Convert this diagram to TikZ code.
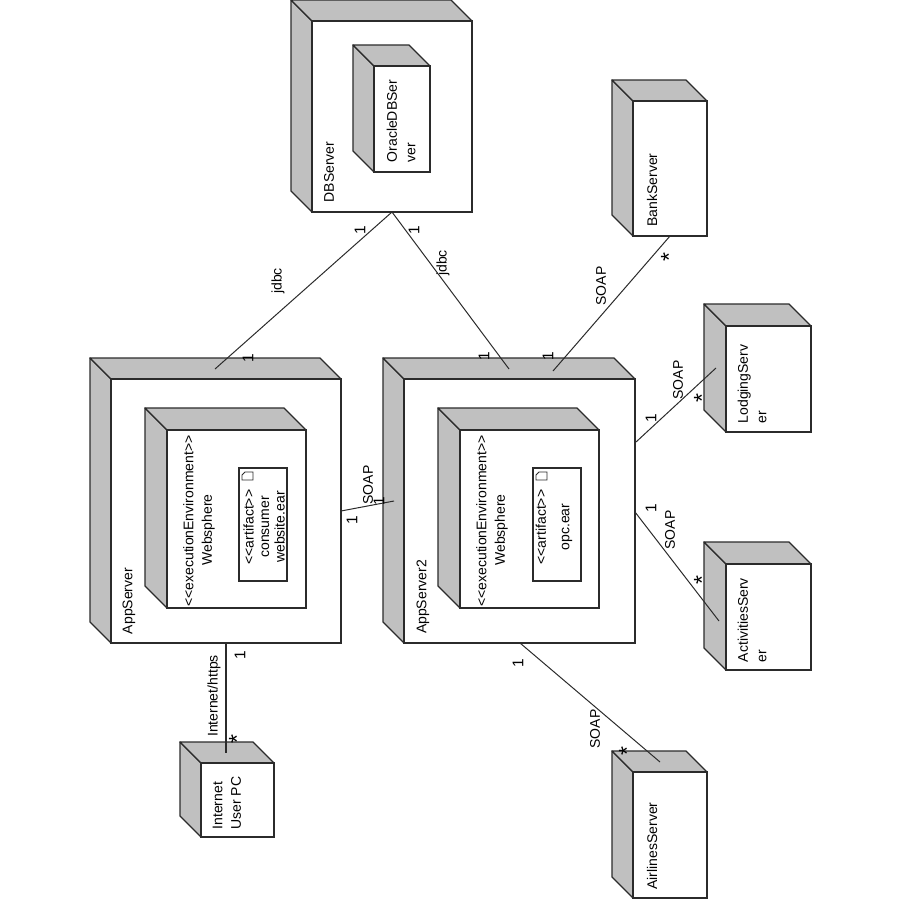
\documentclass[tikz,border=0pt]{standalone}
\usepackage{fontspec}
\setmainfont{Liberation Sans}
\usepackage{tikz}
\definecolor{sidegray}{HTML}{C0C0C0}
\definecolor{inkgray}{HTML}{2B2B2B}
\newcommand{\stereo}[1]{<{}<#1>{}>}
% name, left, top, right, bottom of the front face, depth
\newcommand{\depl}[6]{
  \pgfmathsetmacro{\blx}{#2-#6}
  \pgfmathsetmacro{\bty}{#3-#6}
  \pgfmathsetmacro{\brx}{#4-#6}
  \pgfmathsetmacro{\bby}{#5-#6}
  \pgfmathsetmacro{\bw}{#4-#2}
  \pgfmathsetmacro{\bh}{#5-#3}
  \pgfmathsetmacro{\bcx}{(#2+#4)/2}
  \pgfmathsetmacro{\bcy}{(#3+#5)/2}
  \draw[face] (#2,#3) -- (\blx,\bty) -- (\blx,\bby) -- (#2,#5) -- cycle;
  \draw[face] (#2,#3) -- (\blx,\bty) -- (\brx,\bty) -- (#4,#3) -- cycle;
  \node[front,minimum width=\bw pt,minimum height=\bh pt] (#1) at (\bcx,\bcy) {};
}
% little document sign of an artifact
\newcommand{\artf}[2]{
  \draw[line width=.9pt,inkgray,fill=white] (#1+3,#2) -- (#1+11,#2) -- (#1+11,#2+8)
  -- (#1,#2+8) -- (#1,#2+3) -- cycle;
}

\begin{document}
\begin{tikzpicture}[x=1pt,y=-1pt
	,semithick]
  \tikzstyle{face}=[draw=inkgray,line width=1.3pt,fill=sidegray,line join=round]
  \tikzstyle{front}=[draw=inkgray,line width=1.3pt,fill=white,inner sep=0pt,outer sep=0pt]
  \tikzstyle{txt}=[rotate=90,inner sep=0pt,align=left,font=\fontsize{14}{18.5}\selectfont]
  \tikzstyle{mid}=[txt,align=center]
  \tikzstyle{one}=[txt,font=\fontsize{15.5}{15.5}\selectfont]
  \tikzstyle{many}=[txt,font=\fontsize{23}{23}\selectfont]
  \tikzstyle{assoc}=[draw=inkgray,line width=1pt]

  \useasboundingbox (0,0) rectangle (900,900);

  % boxes
  \depl{DBServer}{312}{21}{472}{212}{21}
  \depl{OracleBox}{374}{66}{430}{172}{21}
  \depl{BankServer}{633}{101}{707}{236}{21}
  \depl{AppServer}{111}{379}{341}{643}{21}
  \depl{WsOne}{167}{430}{306}{608}{22}
  \depl{AppServerTwo}{404}{379}{635}{643}{21}
  \depl{WsTwo}{460}{430}{599}{608}{22}
  \depl{LodgingServer}{726}{326}{811}{432}{22}
  \depl{ActivitiesServer}{726}{564}{811}{670}{22}
  \depl{AirlinesServer}{633}{772}{707}{898}{21}
  \depl{UserPC}{201}{763}{274}{837}{21}

  % artifacts
  \node[front,line width=1.1pt,minimum width=48pt,minimum height=113pt] (artOne) at (263,524.5) {};
  \node[front,line width=1.1pt,minimum width=48pt,minimum height=113pt] (artTwo) at (557,524.5) {};
  \artf{242}{472}
  \artf{536}{472}

  % loose line ends
  \coordinate (appJdbc) at (215,369);
  \coordinate (twoJdbc) at (509,369);
  \coordinate (twoBank) at (553,371);
  \coordinate (twoSoap) at (394,501);
  \coordinate (appSoap) at (341,511);
  \coordinate (twoLodging) at (636,442);
  \coordinate (lodgingEnd) at (716,368);
  \coordinate (twoActiv) at (635,512);
  \coordinate (activEnd) at (719,621);
  \coordinate (twoAirl) at (520,643);
  \coordinate (airlEnd) at (660,762);
  \coordinate (appInet) at (226,643);
  \coordinate (inetEnd) at (226,753);

  % connectors
  \path[assoc] (DBServer.south) edge (appJdbc);
  \path[assoc] (DBServer.south) edge (twoJdbc);
  \path[assoc] (BankServer.south) edge (twoBank);
  \path[assoc] (appSoap) edge (twoSoap);
  \path[assoc] (twoLodging) edge (lodgingEnd);
  \path[assoc] (twoActiv) edge (activEnd);
  \path[assoc] (twoAirl) edge (airlEnd);
  \path[assoc,line width=1.4pt] (appInet) edge (inetEnd);

  % names in the boxes
  \node[txt] (dbName) at (329,172) {DBServer};
  \node[txt] (oracleName) at (401,121) {OracleDBSer\\ver};
  \node[txt] (bankName) at (652,190) {BankServer};
  \node[txt] (appName) at (129,601) {AppServer};
  \node[txt] (twoName) at (423,597) {AppServer2};
  \node[mid] (wsOneName) at (199,521) {\stereo{executionEnvironment}\\Websphere\hspace*{18pt}};
  \node[mid] (wsTwoName) at (492,521) {\stereo{executionEnvironment}\\Websphere\hspace*{18pt}};
  \node[mid,font=\fontsize{14}{15.5}\selectfont] (artOneName) at (264,527) {\stereo{artifact}\\consumer\\website.ear};
  \node[mid] (artTwoName) at (554,527) {\stereo{artifact}\\[5pt]opc.ear};
  \node[txt] (lodgingName) at (752,384) {LodgingServ\\er};
  \node[txt] (activName) at (752,620) {ActivitiesServ\\er};
  \node[txt] (airlName) at (652,846) {AirlinesServer};
  \node[txt] (pcName) at (227,803) {Internet\\User PC};

  % association names
  \node[txt] (jdbcOne) at (278,281) {jdbc};
  \node[txt] (jdbcTwo) at (443,263) {jdbc};
  \node[txt] (soapBank) at (601,286) {SOAP};
  \node[txt] (soapLodging) at (678,380) {SOAP};
  \node[txt] (soapActiv) at (670,530) {SOAP};
  \node[txt] (soapAirl) at (595,729) {SOAP};
  \node[txt] (soapApp) at (368,485) {SOAP};
  \node[txt] (inetName) at (214,696) {Internet/https};

  % multiplicities
  \node[one] (mA) at (360,230) {1};
  \node[one] (mB) at (414,230) {1};
  \node[one] (mC) at (248,358) {1};
  \node[one] (mD) at (484,356) {1};
  \node[one] (mE) at (548,356) {1};
  \node[one] (mF) at (352,520) {1};
  \node[one] (mG) at (379,501) {1};
  \node[one] (mH) at (651,418) {1};
  \node[one] (mI) at (651,508) {1};
  \node[one] (mJ) at (518,663) {1};
  \node[one] (mK) at (240,655) {1};
  \node[many] (sA) at (669,257) {*};
  \node[many] (sB) at (702,398) {*};
  \node[many] (sC) at (702,580) {*};
  \node[many] (sD) at (627,751) {*};
  \node[many] (sE) at (237,739) {*};
\end{tikzpicture}
\end{document}
